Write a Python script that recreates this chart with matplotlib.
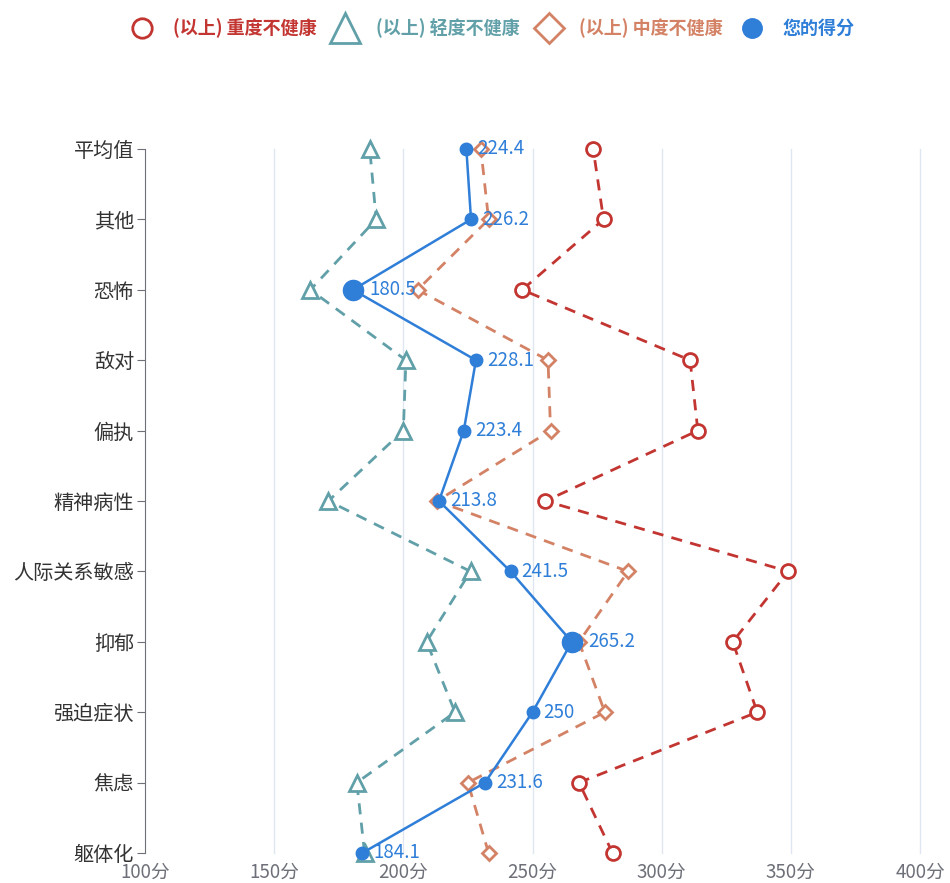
import matplotlib
matplotlib.use('Agg')
import matplotlib.pyplot as plt
from matplotlib.lines import Line2D

plt.rcParams['font.family'] = ['Noto Sans CJK SC', 'DejaVu Sans']

# categories from bottom to top
categories = ['躯体化', '焦虑', '强迫症状', '抑郁', '人际关系敏感', '精神病性',
              '偏执', '敌对', '恐怖', '其他', '平均值']
severe = [281, 268, 337, 327.5, 349, 255, 314, 311, 246, 277.5, 273.5]
mild = [185, 182, 220, 209, 226, 171, 200, 201, 164, 189.5, 187]
moderate = [233, 225, 278, 268, 287, 213, 257, 256, 205.5, 233, 230]
score = [184.1, 231.6, 250, 265.2, 241.5, 213.8, 223.4, 228.1, 180.5, 226.2, 224.4]
xticks = [100, 150, 200, 250, 300, 350, 400]

c_red = '#c23531'
c_teal = '#61a0a8'
c_orange = '#d48265'
c_blue = '#2f7ed8'

fig = plt.figure(figsize=(9.5, 8.83), dpi=100)
ax = fig.add_axes([145 / 950, 1 - 853 / 883, 775 / 950, 704 / 883])
y = list(range(len(categories)))

for xv in xticks[1:]:
    ax.axvline(xv, color='#e0e6f1', lw=1, zorder=0)

ax.plot(severe, y, ls='--', color=c_red, lw=2, dashes=(4, 3), marker='o', ms=10,
        mfc='white', mec=c_red, mew=2, zorder=2)
ax.plot(mild, y, ls='--', color=c_teal, lw=2, dashes=(4, 3), marker='^', ms=11.5,
        mfc='white', mec=c_teal, mew=2, zorder=2)
ax.plot(moderate, y, ls='--', color=c_orange, lw=2, dashes=(4, 3), marker='D', ms=7.5,
        mfc='white', mec=c_orange, mew=2, zorder=2)
ax.plot(score, y, color=c_blue, lw=1.8, zorder=3)

smax, smin = max(score), min(score)
for xv, yv in zip(score, y):
    big = xv in (smax, smin)
    ax.plot(xv, yv, 'o', color=c_blue, ms=14.5 if big else 9, zorder=4)
    ax.annotate(f'{xv:g}', (xv, yv), xytext=(12 if big else 8, 0),
                textcoords='offset points', color=c_blue, fontsize=13.5,
                va='center', ha='left', zorder=5)

ax.set_xlim(100, 400)
ax.set_ylim(0, len(categories) - 1)
ax.set_xticks(xticks)
ax.set_xticklabels([f'{v}分' for v in xticks], color='#6e7079', fontsize=13.5)
ax.set_yticks(y)
ax.set_yticklabels(categories, color='#333333', fontsize=14.5)
ax.tick_params(axis='x', length=0, pad=6)
ax.tick_params(axis='y', length=6, color='#6e7079', pad=2)
for s in ['top', 'right', 'bottom']:
    ax.spines[s].set_visible(False)
ax.spines['left'].set_color('#6e7079')
for line in ax.lines:
    line.set_clip_on(False)

handles = [
    Line2D([], [], ls='none', marker='o', ms=14, mfc='white', mec=c_red, mew=2),
    Line2D([], [], ls='none', marker='^', ms=22, mfc='white', mec=c_teal, mew=2),
    Line2D([], [], ls='none', marker='D', ms=15, mfc='white', mec=c_orange, mew=2),
    Line2D([], [], ls='none', marker='o', ms=14, color=c_blue),
]
labels = ['(以上) 重度不健康', '(以上) 轻度不健康', '(以上) 中度不健康', '您的得分']
leg = fig.legend(handles, labels, loc='center', bbox_to_anchor=(0.515, 1 - 28 / 883),
                 ncol=4, frameon=False, fontsize=13, handletextpad=0.7,
                 columnspacing=0.6, handlelength=2.0)
for t, c in zip(leg.get_texts(), [c_red, c_teal, c_orange, c_blue]):
    t.set_color(c)
    t.set_fontweight('bold')

fig.savefig('out.png', dpi=100)
